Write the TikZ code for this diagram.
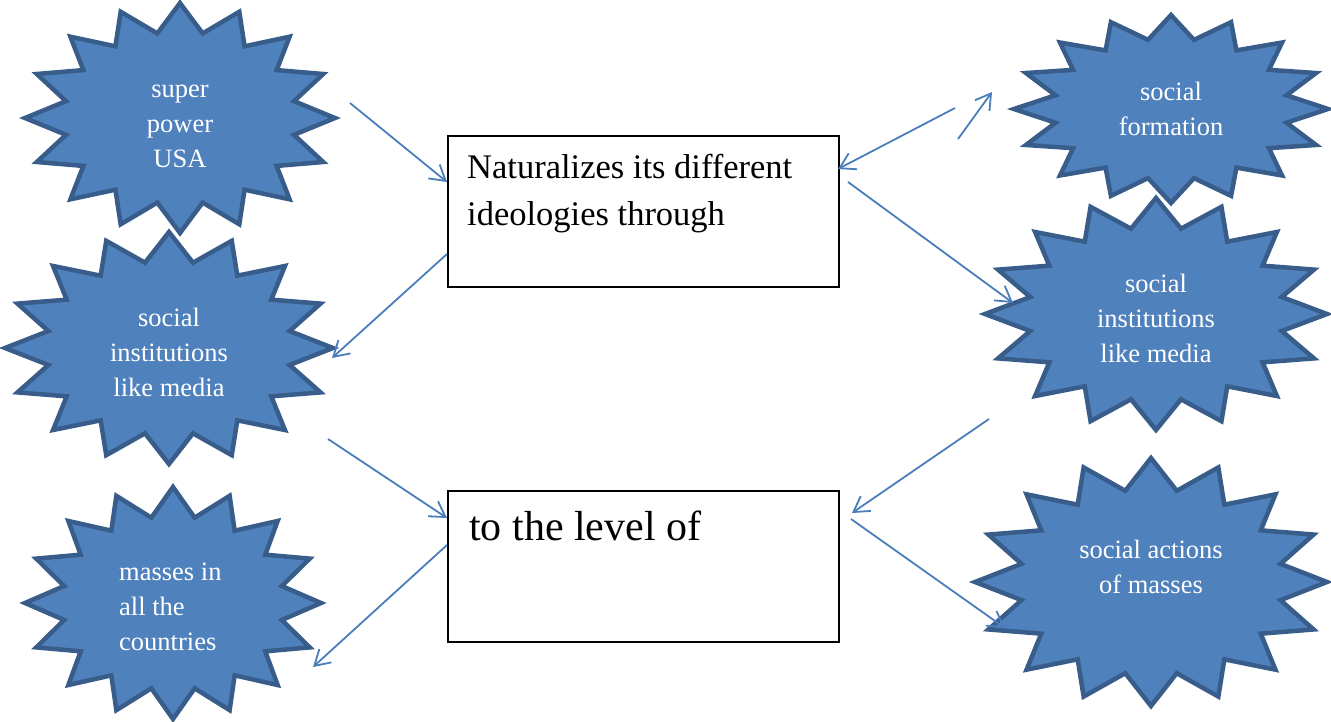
\documentclass[tikz,border=0pt]{standalone}
\usepackage{fontspec}
\setmainfont{Liberation Serif}
\usetikzlibrary{arrows.meta}
\definecolor{starfill}{HTML}{4F81BD}
\definecolor{starline}{HTML}{385D8A}
\definecolor{arrowblue}{HTML}{4A7EBB}
\tikzset{
  starsty/.style={fill=starfill, draw=starline, line width=4.5pt, line join=miter},
  startext/.style={text=white, font=\fontsize{26.5}{35}\selectfont, inner sep=0pt, anchor=base},
  boxsty/.style={draw=black, line width=2pt, fill=white, inner sep=0pt, anchor=north west},
  conn/.style={draw=arrowblue, line width=1.8pt, -{Straight Barb[length=15pt,width=18pt]}},
}
\newcommand{\starblob}[5]{%
  \draw[starsty] ({#2+#4},{#3}) \foreach \k in {1,...,31}{ -- ({#2+#4*(1-0.25*mod(\k,2))*cos(\k*11.25)},{#3+#5*(1-0.25*mod(\k,2))*sin(\k*11.25)}) } -- cycle;
  \coordinate (#1) at (#2,#3);
}
\begin{document}
\begin{tikzpicture}[x=1pt,y=-1pt]
\useasboundingbox (0,0) rectangle (1331,721);
% stars
\starblob{s1}{180}{118}{155}{115}
\starblob{s2}{169}{348}{164}{116}
\starblob{s3}{173}{603}{148}{116}
\starblob{s4}{1171}{109}{157}{94}
\starblob{s5}{1156}{314}{171}{116}
\starblob{s6}{1151}{582}{176}{124}
% star texts (base anchor = baseline of last line)
\node[startext, align=center] (t1) at (180,167) {super\\power\\USA};
\node[startext, align=center] (t2) at (169,396) {social\\institutions\\like media};
\node[startext, align=left, anchor=base west] (t3) at (119,650) {masses in\\all the\\countries};
\node[startext, align=center] (t4) at (1171,135) {social\\formation};
\node[startext, align=center] (t5) at (1156,362) {social\\institutions\\like media};
\node[startext, align=center] (t6) at (1151,593) {social actions\\of masses};
% boxes
\node[boxsty, minimum width=391pt, minimum height=151pt] (b1) at (447,135) {};
\node[boxsty, minimum width=391pt, minimum height=151pt] (b2) at (447,490) {};
\node[inner sep=0pt, anchor=base west, align=left, font=\fontsize{34.5}{47}\selectfont] (bt1) at (467,225) {Naturalizes its different\\ideologies through};
\node[inner sep=0pt, anchor=base west, font=\fontsize{42}{50}\selectfont] (bt2) at (469,540) {to the level of};
% connector ends
\coordinate (a1s) at (350,103); \coordinate (a1e) at (447,182);
\coordinate (a2s) at (447,254); \coordinate (a2e) at (332,358);
\coordinate (a3s) at (328,439); \coordinate (a3e) at (447,518);
\coordinate (a4s) at (447,545); \coordinate (a4e) at (313,667);
\coordinate (a5s) at (958,139); \coordinate (a5e) at (992,92);
\coordinate (a6s) at (955,108); \coordinate (a6e) at (838,169);
\coordinate (a7s) at (848,182); \coordinate (a7e) at (1013,303);
\coordinate (a8s) at (989,419); \coordinate (a8e) at (852,513);
\coordinate (a9s) at (851,519); \coordinate (a9e) at (1005,628);
\foreach \i in {1,...,9}{\draw[conn] (a\i s) -- (a\i e);}
\end{tikzpicture}
\end{document}
